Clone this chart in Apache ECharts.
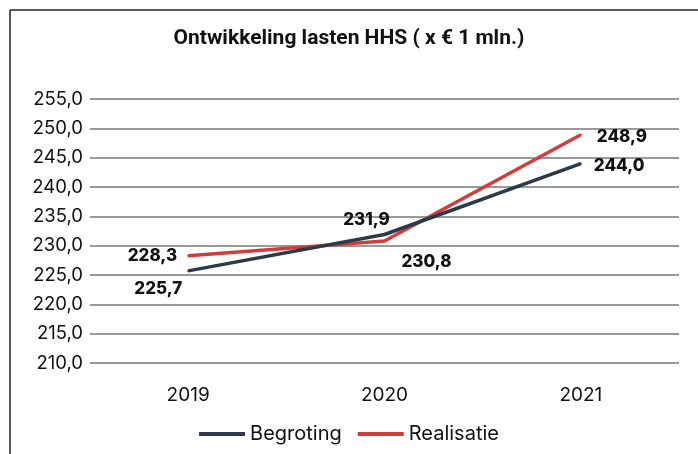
<!DOCTYPE html>
<html>
<head>
    <meta charset="utf-8">
    <title>Ontwikkeling lasten HHS</title>
    <script src="https://cdn.jsdelivr.net/npm/echarts@6/dist/echarts.min.js"></script>
    <style>
        html, body { margin: 0; padding: 0; background: #fff; }
    </style>
</head>
<body>
<div id="main" style="width: 698px;height:454px;"></div>
<script>

var years = ['2019', '2020', '2021'];
var begroting = [225.7, 231.9, 244.0];
var realisatie = [228.3, 230.8, 248.9];

// label placement per point (not data, just where the numbers sit)
var begrotingLabels = [
    {position: 'left', offset: [0, 18]},
    {position: 'top', offset: [-18, 0]},
    {position: 'right', offset: [7, 2]}
];
var realisatieLabels = [
    {position: 'left', offset: [-5, 0]},
    {position: 'bottom', offset: [42, 6]},
    {position: 'right', offset: [10, 2]}
];

var fontFam = 'Inter, "Liberation Sans", sans-serif';

function comma(v) {
    return v.toFixed(1).replace('.', ',');
}

function buildData(values, labels) {
    return values.map(function (v, i) {
        return {value: v, label: labels[i]};
    });
}

var labelStyle = {
    show: true,
    fontFamily: fontFam,
    fontSize: 17,
    fontWeight: 800,
    color: '#111',
    formatter: function (p) { return comma(p.value); }
};

var option = {
    animation: false,
    title: {
        text: 'Ontwikkeling lasten HHS ( x € 1 mln.)',
        left: 'center',
        top: 23,
        textStyle: {
            fontFamily: 'Roboto, ' + fontFam,
            fontSize: 21,
            fontWeight: 'bold',
            color: '#111'
        }
    },
    graphic: [
        {type: 'line', shape: {x1: 10, y1: 10, x2: 698, y2: 10}, style: {stroke: '#222', lineWidth: 1.5}},
        {type: 'line', shape: {x1: 10, y1: 10, x2: 10, y2: 454}, style: {stroke: '#222', lineWidth: 1.5}}
    ],
    legend: {
        bottom: 5,
        left: 'center',
        itemWidth: 46,
        itemHeight: 4,
        itemGap: 16,
        icon: 'rect',
        textStyle: {fontFamily: fontFam, fontSize: 20, color: '#111'},
        data: ['Begroting', 'Realisatie']
    },
    grid: {left: 90, right: 19, top: 99, bottom: 91},
    xAxis: {
        type: 'category',
        data: years,
        axisLine: {show: false},
        axisTick: {show: false},
        axisLabel: {margin: 23, fontFamily: fontFam, fontSize: 19, color: '#111'}
    },
    yAxis: {
        type: 'value',
        min: 210,
        max: 255,
        interval: 5,
        axisLabel: {
            margin: 7,
            fontFamily: fontFam,
            fontSize: 18.5,
            color: '#111',
            formatter: comma
        },
        splitLine: {lineStyle: {color: '#777', width: 1.5}}
    },
    series: [
        {
            name: 'Begroting',
            type: 'line',
            data: buildData(begroting, begrotingLabels),
            symbol: 'circle',
            symbolSize: 2,
            itemStyle: {color: '#2b3a4b'},
            lineStyle: {width: 3.5, color: '#2b3a4b'},
            label: labelStyle,
            z: 3
        },
        {
            name: 'Realisatie',
            type: 'line',
            data: buildData(realisatie, realisatieLabels),
            symbol: 'circle',
            symbolSize: 2,
            itemStyle: {color: '#d23c3a'},
            lineStyle: {width: 3.5, color: '#d23c3a'},
            label: labelStyle,
            z: 2
        }
    ]
};

var myChart = echarts.init(document.getElementById('main'));
myChart.setOption(option);

</script>
</body>
</html>
